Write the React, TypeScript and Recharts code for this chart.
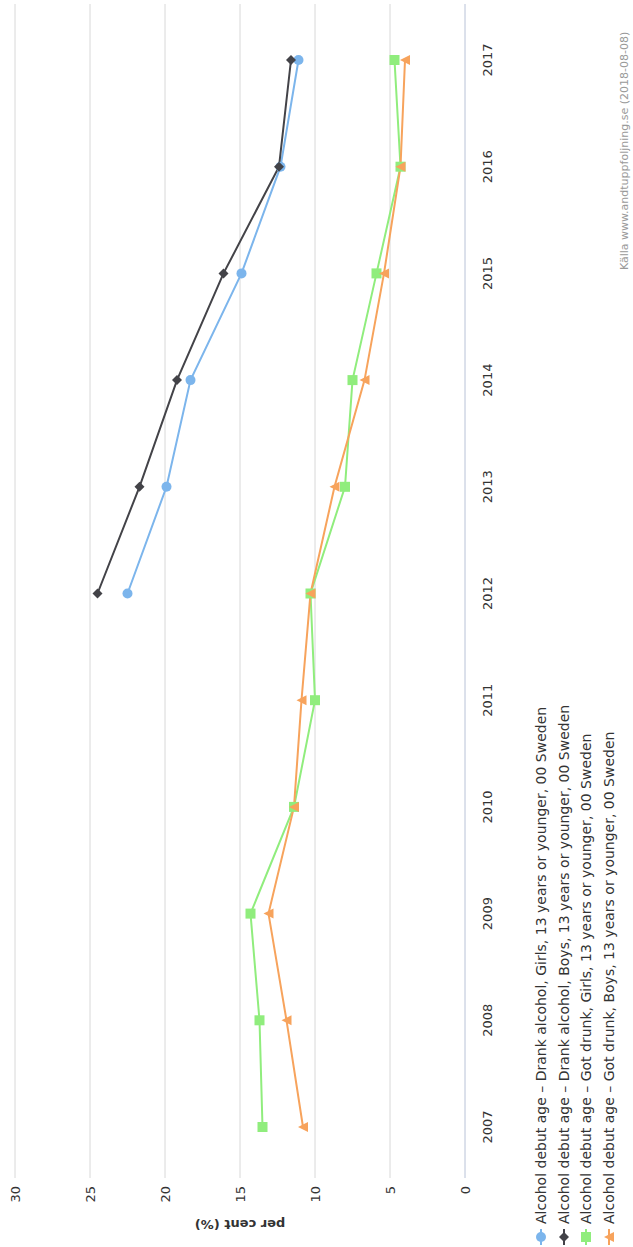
import React from "react";
import { LineChart, Line, XAxis, YAxis, CartesianGrid } from "recharts";

const years = ["2007","2008","2009","2010","2011","2012","2013","2014","2015","2016","2017"];
const drankGirls = [null,null,null,null,null,22.5,19.9,18.3,14.9,12.3,11.1];
const drankBoys = [null,null,null,null,null,24.5,21.7,19.2,16.1,12.4,11.6];
const drunkGirls = [13.5,13.7,14.3,11.4,10.0,10.3,8.0,7.5,5.9,4.3,4.7];
const drunkBoys = [10.8,11.9,13.1,11.4,10.9,10.3,8.7,6.7,5.4,4.3,4.0];
const yTicks = [0,5,10,15,20,25,30];
const seriesNames = [
  "Alcohol debut age – Drank alcohol, Girls, 13 years or younger, 00 Sweden",
  "Alcohol debut age – Drank alcohol, Boys, 13 years or younger, 00 Sweden",
  "Alcohol debut age – Got drunk, Girls, 13 years or younger, 00 Sweden",
  "Alcohol debut age – Got drunk, Boys, 13 years or younger, 00 Sweden",
];
const colors = ["#7cb5ec", "#434348", "#90ed7d", "#f7a35c"];
const shapes = ["circle", "diamond", "square", "triangle"];

const data = years.map((y, i) => ({
  year: y, a: drankGirls[i], b: drankBoys[i], c: drunkGirls[i], d: drunkBoys[i],
}));

function Marker({ cx, cy, shape, color }: any) {
  if (cx == null || cy == null) return null;
  if (shape === "circle") return <circle cx={cx} cy={cy} r={5} fill={color} />;
  if (shape === "diamond") return <path d={`M${cx},${cy-5}L${cx+5},${cy}L${cx},${cy+5}L${cx-5},${cy}Z`} fill={color} />;
  if (shape === "square") return <rect x={cx-5} y={cy-5} width={10} height={10} fill={color} />;
  return <path d={`M${cx},${cy-5}L${cx+5},${cy+5}L${cx-5},${cy+5}Z`} fill={color} />;
}

const font = "'DejaVu Sans', sans-serif";

export default function App() {
  const keys = ["a", "b", "c", "d"];
  return (
    <div style={{ position: "fixed", left: 0, top: 0, width: 633, height: 1247, background: "#fff", overflow: "hidden" }}>
      <div style={{ position: "absolute", left: 0, top: 0, width: 1247, height: 633, transformOrigin: "0 0", transform: "translate(0px,1247px) rotate(-90deg)", fontFamily: font }}>
        <LineChart width={1247} height={633} data={data} margin={{ top: 15, right: 4, bottom: 138, left: 0 }}>
          <CartesianGrid vertical={false} stroke="#d8d8d8" />
          <XAxis dataKey="year" height={30} padding={{ left: 51, right: 56 }} tickLine={false} axisLine={{ stroke: "#ccd6eb" }} tick={{ fontSize: 13, fill: "#333", fontFamily: font }} tickMargin={12} />
          <YAxis domain={[0, 30]} ticks={yTicks} width={69} tickLine={false} axisLine={false} tick={{ fontSize: 13, fill: "#333", fontFamily: font }}
            label={{ value: "per cent (%)", angle: -90, position: "insideLeft", offset: 22, style: { fontSize: 13, fill: "#333", fontWeight: "bold", textAnchor: "middle" } }} />
          {keys.map((k, i) => (
            <Line key={k} dataKey={k} stroke={colors[i]} strokeWidth={2} isAnimationActive={false} connectNulls={false}
              dot={(p: any) => <Marker key={p.index} cx={p.cx} cy={p.cy} shape={shapes[i]} color={colors[i]} />} activeDot={false} />
          ))}
        </LineChart>
        {seriesNames.map((n, i) => (
          <div key={n} style={{ position: "absolute", left: 2, top: 531 + i * 22.7, height: 20, display: "flex", alignItems: "center", fontSize: 14, color: "#333", whiteSpace: "nowrap" }}>
            <svg width={16} height={12} style={{ marginRight: 5 }}>
              <line x1={0} y1={6} x2={16} y2={6} stroke={colors[i]} strokeWidth={2} />
              <Marker cx={8} cy={6} shape={shapes[i]} color={colors[i]} />
            </svg>
            {n}
          </div>
        ))}
        <div style={{ position: "absolute", left: 977, top: 618, fontSize: 11, color: "#999", whiteSpace: "nowrap" }}>
          Källa www.andtuppfoljning.se (2018-08-08)
        </div>
      </div>
    </div>
  );
}
